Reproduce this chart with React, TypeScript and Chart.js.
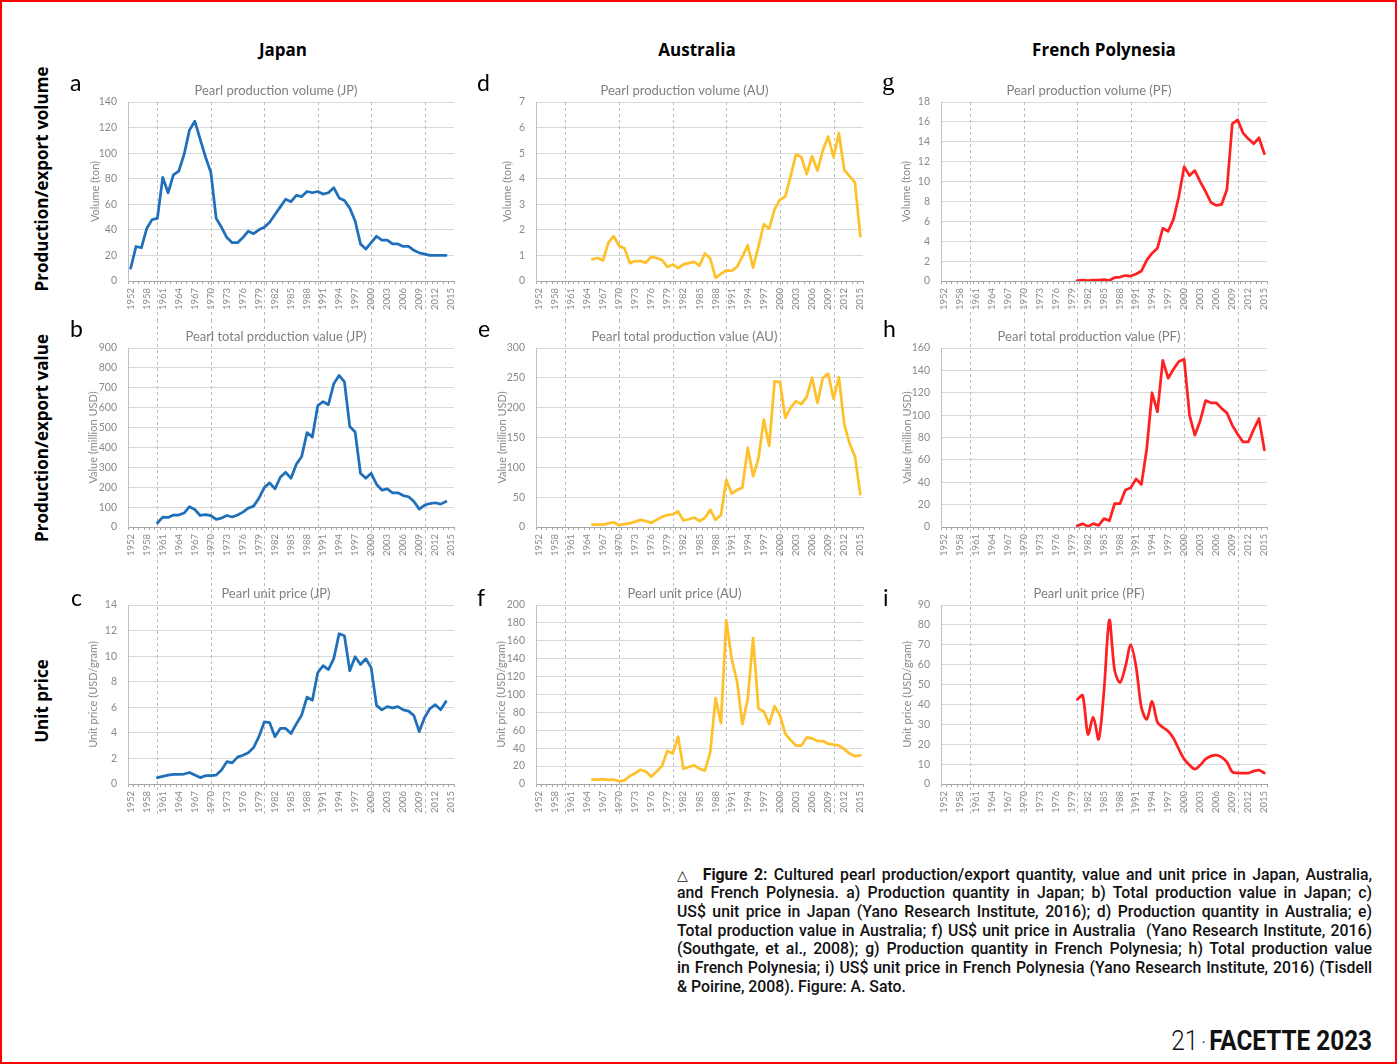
import React, { useEffect, useRef } from "react";
import { Chart, registerables } from "chart.js";

Chart.register(...registerables);

// ---------- DATA ----------
const YEARS: string[] = [
  "1952", "1954", "1956", "1958", "1959", "1960", "1961", "1962", "1963", "1964",
  "1965", "1966", "1967", "1968", "1969", "1970", "1971", "1972", "1973", "1974",
  "1975", "1976", "1977", "1978", "1979", "1980", "1981", "1982", "1983", "1984",
  "1985", "1986", "1987", "1988", "1989", "1990", "1991", "1992", "1993", "1994",
  "1995", "1996", "1997", "1998", "1999", "2000", "2001", "2002", "2003", "2004",
  "2005", "2006", "2007", "2008", "2009", "2010", "2011", "2012", "2013", "2014",
  "2015",
];

const JP_VOLUME: (number | null)[] = [
  10, 27, 26, 41, 48, 49, 81, 69, 83, 86,
  99, 118, 125, 111, 97, 85, 49, 42, 34, 30,
  30, 34, 39, 37, 40, 42, 46, 52, 58, 64,
  62, 67, 66, 70, 69, 70, 68, 69, 73, 65,
  63, 57, 47, 29, 25, 30, 35, 32, 32, 29,
  29, 27, 27, 24, 22, 21, 20, 20, 20, 20,
  null,
];

const JP_VALUE: (number | null)[] = [
  null, null, null, null, null, 20, 50, 48, 60, 60,
  70, 102, 88, 58, 62, 57, 38, 45, 58, 50,
  60, 75, 95, 105, 145, 198, 222, 192, 250, 275,
  245, 315, 355, 475, 452, 610, 630, 615, 720, 762,
  730, 505, 478, 270, 245, 270, 215, 185, 192, 172,
  172, 158, 152, 128, 90, 110, 118, 122, 115, 128,
  null,
];

const JP_PRICE: (number | null)[] = [
  null, null, null, null, null, 0.5, 0.6, 0.7, 0.75, 0.75,
  0.78, 0.9, 0.7, 0.5, 0.65, 0.65, 0.7, 1.1, 1.75, 1.65,
  2.1, 2.25, 2.45, 2.85, 3.7, 4.85, 4.8, 3.7, 4.35, 4.35,
  3.95, 4.7, 5.4, 6.8, 6.55, 8.7, 9.25, 8.95, 9.8, 11.75,
  11.6, 8.85, 9.95, 9.35, 9.8, 9.1, 6.15, 5.8, 6.05, 5.95,
  6.05, 5.8, 5.7, 5.35, 4.1, 5.2, 5.9, 6.2, 5.8, 6.45,
  null,
];

const AU_VOLUME: (number | null)[] = [
  null, null, null, null, null, null, null, null, null, null,
  0.85, 0.9, 0.8, 1.5, 1.75, 1.38, 1.28, 0.7, 0.78, 0.78,
  0.72, 0.95, 0.9, 0.82, 0.55, 0.65, 0.5, 0.65, 0.7, 0.75,
  0.6, 1.08, 0.88, 0.12, 0.28, 0.42, 0.4, 0.55, 0.95, 1.4,
  0.52, 1.35, 2.22, 2.05, 2.8, 3.18, 3.3, 4.1, 4.95, 4.85,
  4.18, 4.88, 4.32, 5.1, 5.65, 4.85, 5.78, 4.35, 4.1, 3.85,
  1.75,
];

const AU_VALUE: (number | null)[] = [
  null, null, null, null, null, null, null, null, null, null,
  4, 4, 4, 6, 8, 3, 5, 6, 9, 12,
  10, 7, 12, 17, 20, 21, 26, 11, 13, 16,
  10, 15, 29, 12, 20, 79, 56, 62, 66, 133,
  85, 115, 180, 136, 244, 243, 183, 200, 211, 206,
  218, 250, 208, 250, 257, 215, 251, 172, 140, 118,
  55,
];

const AU_PRICE: (number | null)[] = [
  null, null, null, null, null, null, null, null, null, null,
  5, 5, 5.5, 4.5, 5, 3, 4, 9, 12, 16,
  14, 8, 14, 20, 37, 34, 53, 17, 19, 21,
  17, 15, 35, 96, 68, 183, 140, 115, 67, 95,
  163, 84, 81, 67, 87, 77, 56, 49, 43, 43,
  52, 51, 48, 48, 45, 44, 43, 39, 34, 31,
  32,
];

const PF_VOLUME: (number | null)[] = [
  null, null, null, null, null, null, null, null, null, null,
  null, null, null, null, null, null, null, null, null, null,
  null, null, null, null, null, 0.05, 0.08, 0.03, 0.08, 0.08,
  0.15, 0.05, 0.35, 0.4, 0.55, 0.5, 0.7, 1.0, 2.1, 2.8,
  3.3, 5.3, 5.0, 6.2, 8.5, 11.5, 10.6, 11.1, 10.0, 9.0,
  7.9, 7.6, 7.7, 9.2, 15.8, 16.2, 14.9, 14.3, 13.8, 14.4,
  12.8,
];

const PF_VALUE: (number | null)[] = [
  null, null, null, null, null, null, null, null, null, null,
  null, null, null, null, null, null, null, null, null, null,
  null, null, null, null, null, 1, 3, 0.5, 3, 1.5,
  7.5, 5.5, 21, 21, 33, 35, 43, 38, 70, 120,
  103, 149, 133, 141, 148, 150, 100, 82, 95, 113,
  111, 111, 106, 102, 91, 83, 76, 76, 87, 97,
  69,
];

const PF_PRICE: (number | null)[] = [
  null, null, null, null, null, null, null, null, null, null,
  null, null, null, null, null, null, null, null, null, null,
  null, null, null, null, null, 42.5, 44.5, 25, 33.5, 22.5,
  47, 82.5, 57, 51, 59, 70, 59, 38.5, 32.5, 41.5,
  31, 28.5, 26.5, 23, 17.5, 12.5, 9.5, 7.5, 9.5, 12.5,
  14, 14.5, 13.5, 11, 6, 5.5, 5.5, 5.5, 6.5, 7,
  5.5,
];

const COLUMN_TITLES = ["Japan", "Australia", "French Polynesia"];
const ROW_TITLES = ["Production/export volume", "Production/export value", "Unit price"];

const CAPTION_LINES: string[] = [
  "Cultured pearl production/export quantity, value and unit price in Japan, Australia,",
  "and French Polynesia. a) Production quantity in Japan; b) Total production value in Japan; c)",
  "US$ unit price in Japan (Yano Research Institute, 2016); d) Production quantity in Australia; e)",
  "Total production value in Australia; f) US$ unit price in Australia\u00a0 (Yano Research Institute, 2016)",
  "(Southgate, et al., 2008); g) Production quantity in French Polynesia; h) Total production value",
  "in French Polynesia; i) US$ unit price in French Polynesia (Yano Research Institute, 2016) (Tisdell",
  "& Poirine, 2008). Figure: A. Sato.",
];

// ---------- STYLE ----------
const FONT = "Lato, 'Open Sans', sans-serif";
const TICK_COLOR = "#8a8a8a";
const TITLE_COLOR = "#7f7f7f";
const JP_COLOR = "#1f6fba";
const AU_COLOR = "#ffc12b";
const PF_COLOR = "#ff2121";
const PAD_L = 20;
const Y_W = 30;
const RIGHT_PAD = 20;

type PanelSpec = {
  letter: string;
  title: string;
  yTitle: string;
  data: (number | null)[];
  color: string;
  yMax: number;
  yStep: number;
  col: number;
  row: number;
  yTitleOffset: number;
  tension: number;
};

const COLS = [
  { plotLeft: 128, plotRight: 454 },
  { plotLeft: 536, plotRight: 863 },
  { plotLeft: 941, plotRight: 1267 },
];
const ROWS = [
  { top: 80, bottom: 320, xH: 39, padTop: 4, fromPlotTop: true },
  { top: 320, bottom: 577, xH: 50, padTop: 10, fromPlotTop: false },
  { top: 577, bottom: 816, xH: 32, padTop: 10, fromPlotTop: false },
];

// yTitleOffset: distance from the plot's left edge to the centre of the y-axis title
const PANELS: PanelSpec[] = [
  { letter: "a", title: "Pearl production volume (JP)", yTitle: "Volume (ton)", data: JP_VOLUME, color: JP_COLOR, yMax: 140, yStep: 20, col: 0, row: 0, yTitleOffset: 33, tension: 0 },
  { letter: "b", title: "Pearl total production value (JP)", yTitle: "Value (million USD)", data: JP_VALUE, color: JP_COLOR, yMax: 900, yStep: 100, col: 0, row: 1, yTitleOffset: 34.5, tension: 0 },
  { letter: "c", title: "Pearl unit price (JP)", yTitle: "Unit price (USD/gram)", data: JP_PRICE, color: JP_COLOR, yMax: 14, yStep: 2, col: 0, row: 2, yTitleOffset: 34.5, tension: 0 },
  { letter: "d", title: "Pearl production volume (AU)", yTitle: "Volume (ton)", data: AU_VOLUME, color: AU_COLOR, yMax: 7, yStep: 1, col: 1, row: 0, yTitleOffset: 28.5, tension: 0 },
  { letter: "e", title: "Pearl total production value (AU)", yTitle: "Value (million USD)", data: AU_VALUE, color: AU_COLOR, yMax: 300, yStep: 50, col: 1, row: 1, yTitleOffset: 34, tension: 0 },
  { letter: "f", title: "Pearl unit price (AU)", yTitle: "Unit price (USD/gram)", data: AU_PRICE, color: AU_COLOR, yMax: 200, yStep: 20, col: 1, row: 2, yTitleOffset: 34.5, tension: 0 },
  { letter: "g", title: "Pearl production volume (PF)", yTitle: "Volume (ton)", data: PF_VOLUME, color: PF_COLOR, yMax: 18, yStep: 2, col: 2, row: 0, yTitleOffset: 34.5, tension: 0 },
  { letter: "h", title: "Pearl total production value (PF)", yTitle: "Value (million USD)", data: PF_VALUE, color: PF_COLOR, yMax: 160, yStep: 20, col: 2, row: 1, yTitleOffset: 34, tension: 0 },
  { letter: "i", title: "Pearl unit price (PF)", yTitle: "Unit price (USD/gram)", data: PF_PRICE, color: PF_COLOR, yMax: 90, yStep: 10, col: 2, row: 2, yTitleOffset: 34, tension: 0.3 },
];

function makeDecadePlugin(fromPlotTop: boolean) {
  return {
    id: "decadeLines",
    beforeDatasetsDraw(chart: any) {
      const { ctx, chartArea, height } = chart;
      const xs = chart.scales.x;
      ctx.save();
      ctx.strokeStyle = "#bdbdbd";
      ctx.lineWidth = 1;
      ctx.setLineDash([3, 3]);
      YEARS.forEach((y, i) => {
        if (Number(y) % 10 !== 0) return;
        const x = Math.round(xs.getPixelForValue(i)) + 0.5;
        ctx.beginPath();
        ctx.moveTo(x, fromPlotTop ? chartArea.top : 0);
        ctx.lineTo(x, height);
        ctx.stroke();
      });
      ctx.restore();
    },
  };
}

function Panel({ spec }: { spec: PanelSpec }) {
  const ref = useRef<HTMLCanvasElement>(null);
  const col = COLS[spec.col];
  const row = ROWS[spec.row];
  const left = col.plotLeft - Y_W - PAD_L;
  const width = col.plotRight - left + RIGHT_PAD;
  const top = row.top;
  const height = row.bottom - row.top;
  const yTitleFont = 11;
  // title centre = scale.left + lineHeight/2 + padding.top
  const yTitlePad = Y_W - spec.yTitleOffset - 6.5;

  useEffect(() => {
    const chart = new Chart(ref.current as HTMLCanvasElement, {
      type: "line",
      data: {
        labels: YEARS,
        datasets: [
          {
            data: spec.data,
            borderColor: spec.color,
            backgroundColor: spec.color,
            borderWidth: 2.75,
            pointRadius: 0,
            pointHoverRadius: 0,
            tension: spec.tension,
            fill: false,
            spanGaps: false,
            borderJoinStyle: "round",
            borderCapStyle: "round",
          } as any,
        ],
      },
      options: {
        animation: false,
        responsive: false,
        devicePixelRatio: 1,
        layout: { padding: { left: PAD_L, right: RIGHT_PAD, top: 0, bottom: 0 } },
        plugins: {
          legend: { display: false },
          tooltip: { enabled: false },
          title: {
            display: true,
            text: spec.title,
            color: TITLE_COLOR,
            font: { family: FONT, size: 13, weight: "normal", lineHeight: "14px" } as any,
            padding: { top: row.padTop, bottom: 4 },
          },
        },
        scales: {
          x: {
            type: "category",
            offset: true,
            ticks: {
              autoSkip: false,
              minRotation: 90,
              maxRotation: 90,
              color: TICK_COLOR,
              font: { family: FONT, size: 9.5 },
              padding: 4,
              callback: (_v: any, i: number) => (i % 3 === 0 ? YEARS[i] : ""),
            },
            grid: {
              display: true,
              drawOnChartArea: false,
              drawTicks: true,
              tickLength: 3,
              offset: true,
              color: "#a6a6a6",
              tickColor: "#a6a6a6",
            },
            border: { display: true, color: "#a6a6a6", width: 1 },
            afterFit: (s: any) => {
              s.height = row.xH;
            },
          },
          y: {
            min: 0,
            max: spec.yMax,
            ticks: {
              stepSize: spec.yStep,
              color: TICK_COLOR,
              font: { family: FONT, size: 10.5 },
              padding: 11,
            },
            grid: { color: "#d9d9d9", lineWidth: 1, drawTicks: false },
            border: { display: true, color: "#bfbfbf", width: 1 },
            title: {
              display: true,
              text: spec.yTitle,
              color: TICK_COLOR,
              font: { family: FONT, size: yTitleFont, lineHeight: "13px" } as any,
              padding: { top: yTitlePad, bottom: 0 },
            },
            afterFit: (s: any) => {
              s.width = Y_W;
            },
          },
        },
      } as any,
      plugins: [makeDecadePlugin(row.fromPlotTop)],
    });
    return () => chart.destroy();
  }, []);

  return (
    <canvas
      ref={ref}
      width={width}
      height={height}
      style={{ position: "absolute", left, top, width, height }}
    />
  );
}

const LETTER_POS: { [k: string]: { x: number; base: number } } = {
  a: { x: 70, base: 91 },
  b: { x: 70, base: 337.5 },
  c: { x: 71, base: 606 },
  d: { x: 477, base: 91 },
  e: { x: 478, base: 337.5 },
  f: { x: 477, base: 606 },
  g: { x: 882, base: 91 },
  h: { x: 883, base: 337.5 },
  i: { x: 883, base: 606 },
};

export default function App() {
  return (
    <div
      style={{
        position: "absolute",
        left: 0,
        top: 0,
        width: 1397,
        height: 1064,
        background: "#ffffff",
        overflow: "hidden",
      }}
    >
      {PANELS.map((p) => (
        <Panel key={p.letter} spec={p} />
      ))}

      {PANELS.map((p) => {
        const pos = LETTER_POS[p.letter];
        const serif = p.letter === "g";
        const fs = serif ? 25 : 23;
        return (
          <div
            key={"L" + p.letter}
            style={{
              position: "absolute",
              left: pos.x,
              top: pos.base - 0.887 * fs,
              fontFamily: serif ? "'Liberation Serif', 'DejaVu Serif', serif" : FONT,
              fontSize: fs,
              lineHeight: `${fs}px`,
              color: "#000",
              fontWeight: 400,
            }}
          >
            {p.letter}
          </div>
        );
      })}

      {COLUMN_TITLES.map((t, i) => (
        <div
          key={t}
          style={{
            position: "absolute",
            left: [283, 697, 1104][i],
            top: 49,
            transform: "translate(-50%, -50%)",
            fontFamily: "'Open Sans', sans-serif",
            fontWeight: 700,
            fontSize: 17,
            whiteSpace: "nowrap",
            color: "#000",
          }}
        >
          {t}
        </div>
      ))}

      {ROW_TITLES.map((t, i) => (
        <div
          key={t}
          style={{
            position: "absolute",
            left: 41,
            top: [179, 438, 701][i],
            transform: "translate(-50%, -50%) rotate(-90deg)",
            fontFamily: "'Open Sans', sans-serif",
            fontWeight: 700,
            fontSize: 17,
            whiteSpace: "nowrap",
            color: "#000",
          }}
        >
          {t}
        </div>
      ))}

      <div
        style={{
          position: "absolute",
          left: 677,
          top: 865.5,
          width: 695,
          fontFamily: "Roboto, 'Noto Sans', sans-serif",
          fontWeight: 500,
          fontSize: 15.8,
          lineHeight: "18.67px",
          color: "#111",
        }}
      >
        {CAPTION_LINES.map((l, i) => (
          <div
            key={i}
            style={{
              textAlign: "justify",
              textAlignLast: i < CAPTION_LINES.length - 1 ? "justify" : "left",
              whiteSpace: "nowrap",
            }}
          >
            {i === 0 ? (
              <>
                <span style={{ fontFamily: "'DejaVu Sans', sans-serif", fontWeight: 400, fontSize: 14 }}>{"\u25B3"}</span>
                {"\u00a0\u00a0"}
                <span style={{ fontWeight: 700 }}>Figure 2:</span> {l}
              </>
            ) : (
              l
            )}
          </div>
        ))}
      </div>

      <div
        style={{
          position: "absolute",
          right: 1397 - 1372,
          top: 1024,
          transform: "scaleX(0.9)",
          transformOrigin: "100% 0",
          fontFamily: "Roboto, sans-serif",
          fontSize: 27,
          lineHeight: "34px",
          color: "#111",
          whiteSpace: "nowrap",
        }}
      >
        <span style={{ fontWeight: 300 }}>21</span>
        <span style={{ fontWeight: 400, fontSize: 16, verticalAlign: "middle" }}>{"\u00a0·\u00a0"}</span>
        <span style={{ fontWeight: 700 }}>FACETTE 2023</span>
      </div>

      <div
        style={{
          position: "absolute",
          left: 0,
          top: 0,
          width: 1397,
          height: 1064,
          border: "2px solid #ff0000",
          boxSizing: "border-box",
          pointerEvents: "none",
        }}
      />
    </div>
  );
}
